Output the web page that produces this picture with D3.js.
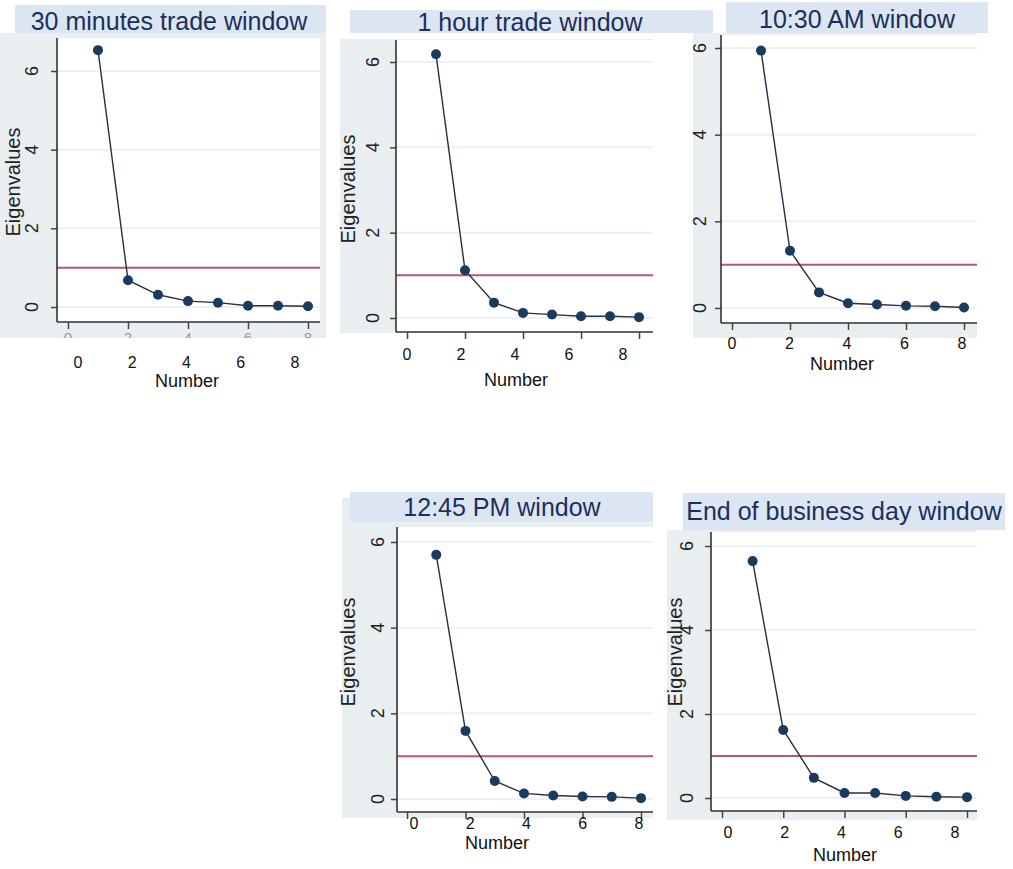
<!DOCTYPE html>
<html>
<head>
<meta charset="utf-8">
<script src="https://cdn.jsdelivr.net/npm/d3@7"></script>
<style>
  body { margin: 0; background: #ffffff; }
  svg text { font-family: Arial, "Liberation Sans", sans-serif; }
</style>
</head>
<body>
<div id="chart"></div>
<script>
//////////////////////////////////////////////////////////////////////////////
// Data

var components = [1, 2, 3, 4, 5, 6, 7, 8];
var xTicks = [0, 2, 4, 6, 8];
var yTicks = [0, 2, 4, 6];
var refValue = 1;

var titles = [
    "30 minutes trade window",
    "1 hour trade window",
    "10:30 AM window",
    "12:45 PM window",
    "End of business day window"
];

var eig30min  = [6.53, 0.68, 0.31, 0.15, 0.11, 0.03, 0.03, 0.02];
var eig1hour  = [6.18, 1.12, 0.36, 0.12, 0.08, 0.04, 0.04, 0.02];
var eig1030   = [5.94, 1.32, 0.36, 0.11, 0.08, 0.05, 0.04, 0.01];
var eig1245   = [5.70, 1.59, 0.42, 0.13, 0.08, 0.06, 0.05, 0.02];
var eigEndDay = [5.64, 1.62, 0.48, 0.12, 0.12, 0.05, 0.03, 0.02];

var series = [eig30min, eig1hour, eig1030, eig1245, eigEndDay];

//////////////////////////////////////////////////////////////////////////////
// Layout of the five pasted panels

var layout = [
    { title: {x: 15,  y: 5,   w: 311, h: 28, cx: 169, by: 30},
      bg:    {x: 0,   y: 33,  w: 326, h: 305},
      plot:  {l: 57,  r: 320, t: 38,  b: 322},
      xr: [68, 308],  yr: [307, 71], cutLabels: true,
      ylabX: 32, ytitle: {x: 13, y: 182},
      outX: [78, 295], outY: 368, num: {x: 187, y: 387} },
    { title: {x: 350, y: 10,  w: 363, h: 23, cx: 530, by: 31},
      bg:    {x: 340, y: 39,  w: 313, h: 294},
      plot:  {l: 396, r: 653, t: 40,  b: 332},
      xr: [407, 639], yr: [318, 62], cutLabels: false,
      ylabX: 373, ytitle: {x: 348, y: 189},
      outX: [407, 623], outY: 360, num: {x: 516, y: 386} },
    { title: {x: 726, y: 2,   w: 262, h: 31, cx: 857, by: 28},
      bg:    {x: 693, y: 33,  w: 284, h: 305},
      plot:  {l: 721, r: 977, t: 35,  b: 323},
      xr: [732, 964], yr: [308, 48], cutLabels: false,
      ylabX: 700, ytitle: null,
      outX: [732, 962], outY: 349, num: {x: 842, y: 370} },
    { title: {x: 350, y: 492, w: 303, h: 30, cx: 502, by: 516},
      bg:    {x: 342, y: 498, w: 311, h: 320},
      plot:  {l: 397, r: 653, t: 527, b: 812},
      xr: [407, 641], yr: [799, 542], cutLabels: false,
      ylabX: 378, ytitle: {x: 348, y: 652},
      outX: [414, 639], outY: 829, num: {x: 497, y: 849} },
    { title: {x: 683, y: 493, w: 322, h: 37, cx: 844, by: 520},
      bg:    {x: 667, y: 530, w: 310, h: 290},
      plot:  {l: 711, r: 977, t: 532, b: 811},
      xr: [722, 967], yr: [798, 546], cutLabels: false,
      ylabX: 687, ytitle: {x: 675, y: 652},
      outX: [728, 955], outY: 838, num: {x: 845, y: 861} }
];

var titleFill = "#dce6f2";
var titleColor = "#1c2f5c";
var panelFill = "#e9eef1";
var lineColor = "#26313d";
var markColor = "#1b3b5e";
var refColor = "#b45a6c";

var svg = d3.select("#chart")
    .append("svg")
    .attr("width", 1013)
    .attr("height", 869);

//////////////////////////////////////////////////////////////////////////////

function drawPanel(i)
{
    var L = layout[i];
    var vals = series[i];
    var data = components.map(function(c, k) { return {n: c, v: vals[k]}; });

    var x = d3.scaleLinear().domain([0, 8]).range(L.xr);
    var y = d3.scaleLinear().domain([0, 6]).range(L.yr);
    var xOut = d3.scaleLinear().domain([0, 8]).range(L.outX);

    var g = svg.append("g");

    // graph region
    g.append("rect")
        .attr("x", L.bg.x).attr("y", L.bg.y)
        .attr("width", L.bg.w).attr("height", L.bg.h)
        .attr("fill", panelFill);

    // plot region
    g.append("rect")
        .attr("x", L.plot.l).attr("y", L.plot.t)
        .attr("width", L.plot.r - L.plot.l).attr("height", L.plot.b - L.plot.t)
        .attr("fill", "#ffffff");

    // faint grid
    g.append("g")
        .selectAll("line")
        .data(yTicks)
        .enter()
        .append("line")
        .attr("x1", L.plot.l).attr("x2", L.plot.r)
        .attr("y1", function(d) { return y(d); })
        .attr("y2", function(d) { return y(d); })
        .attr("stroke", "#eef1f3")
        .attr("stroke-width", 2);

    // reference line at eigenvalue 1
    g.append("line")
        .attr("x1", L.plot.l).attr("x2", L.plot.r)
        .attr("y1", y(refValue)).attr("y2", y(refValue))
        .attr("stroke", refColor)
        .attr("stroke-width", 2);

    // x axis ticks
    var xa = g.append("g")
        .attr("transform", "translate(0," + L.plot.b + ")")
        .call(d3.axisBottom(x).tickValues(xTicks).tickSize(7).tickSizeOuter(0).tickFormat(""));
    xa.select(".domain").remove();
    xa.selectAll(".tick line").attr("stroke", "#444").attr("stroke-width", 1.5);

    // tick labels cut off by the panel edge (first panel only)
    if (L.cutLabels) {
        var clipId = "clip" + i;
        g.append("clipPath").attr("id", clipId)
            .append("rect")
            .attr("x", L.bg.x).attr("y", L.bg.y)
            .attr("width", L.bg.w).attr("height", L.bg.h);
        g.append("g")
            .attr("clip-path", "url(#" + clipId + ")")
            .selectAll("text")
            .data(xTicks)
            .enter()
            .append("text")
            .attr("x", function(d) { return x(d); })
            .attr("y", L.plot.b + 21)
            .attr("text-anchor", "middle")
            .attr("font-size", 15)
            .attr("fill", "#999")
            .text(function(d) { return d; });
    }

    // y axis ticks
    var ya = g.append("g")
        .attr("transform", "translate(" + L.plot.l + ",0)")
        .call(d3.axisLeft(y).tickValues(yTicks).tickSize(6).tickSizeOuter(0).tickFormat(""));
    ya.select(".domain").remove();
    ya.selectAll(".tick line").attr("stroke", "#444").attr("stroke-width", 1.5);

    g.append("g")
        .selectAll("text")
        .data(yTicks)
        .enter()
        .append("text")
        .attr("transform", function(d) {
            return "translate(" + (L.ylabX + 6) + "," + y(d) + ") rotate(-90)";
        })
        .attr("text-anchor", "middle")
        .attr("font-size", 18)
        .attr("fill", "#222")
        .text(function(d) { return d; });

    // axis lines
    g.append("line")
        .attr("x1", L.plot.l).attr("x2", L.plot.l)
        .attr("y1", L.plot.t).attr("y2", L.plot.b)
        .attr("stroke", "#333").attr("stroke-width", 1.6);
    g.append("line")
        .attr("x1", L.plot.l).attr("x2", L.plot.r)
        .attr("y1", L.plot.b).attr("y2", L.plot.b)
        .attr("stroke", "#333").attr("stroke-width", 1.6);

    if (L.ytitle) {
        g.append("text")
            .attr("transform", "translate(" + (L.ytitle.x + 7) + "," + L.ytitle.y + ") rotate(-90)")
            .attr("text-anchor", "middle")
            .attr("font-size", 20)
            .attr("fill", "#222")
            .text("Eigenvalues");
    }

    // scree line and markers
    var line = d3.line()
        .x(function(d) { return x(d.n); })
        .y(function(d) { return y(d.v); });

    g.append("path")
        .datum(data)
        .attr("d", line)
        .attr("fill", "none")
        .attr("stroke", lineColor)
        .attr("stroke-width", 1.4);

    g.append("g")
        .selectAll("circle")
        .data(data)
        .enter()
        .append("circle")
        .attr("cx", function(d) { return x(d.n); })
        .attr("cy", function(d) { return y(d.v); })
        .attr("r", 5)
        .attr("fill", markColor);

    // title box
    g.append("rect")
        .attr("x", L.title.x).attr("y", L.title.y)
        .attr("width", L.title.w).attr("height", L.title.h)
        .attr("fill", titleFill);
    g.append("text")
        .attr("x", L.title.cx).attr("y", L.title.by)
        .attr("text-anchor", "middle")
        .attr("font-size", 25)
        .attr("fill", titleColor)
        .text(titles[i]);

    // pasted x labels below the panel
    g.append("g")
        .selectAll("text")
        .data(xTicks)
        .enter()
        .append("text")
        .attr("x", function(d) { return xOut(d); })
        .attr("y", L.outY)
        .attr("text-anchor", "middle")
        .attr("font-size", 16)
        .attr("fill", "#111")
        .text(function(d) { return d; });

    g.append("text")
        .attr("x", L.num.x).attr("y", L.num.y)
        .attr("text-anchor", "middle")
        .attr("font-size", 18)
        .attr("fill", "#111")
        .text("Number");
}

titles.forEach(function(t, i) { drawPanel(i); });
</script>
</body>
</html>
